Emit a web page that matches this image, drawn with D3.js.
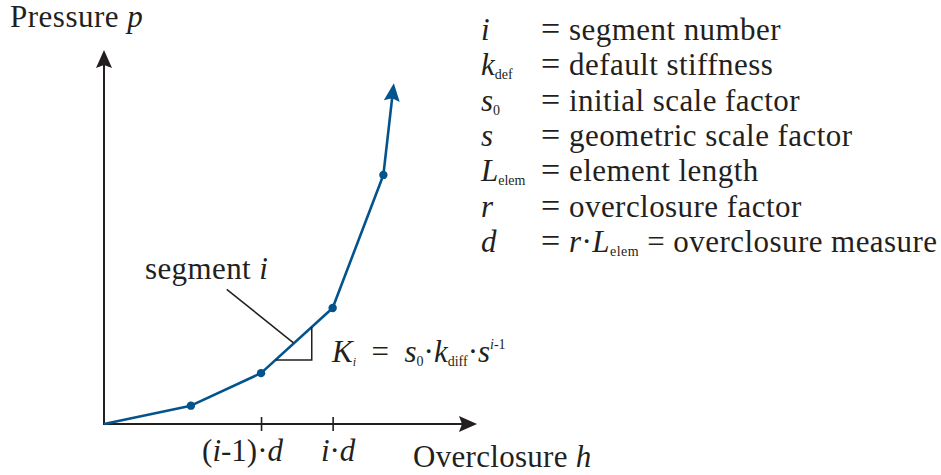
<!DOCTYPE html>
<html>
<head>
<meta charset="utf-8">
<script src="https://cdn.jsdelivr.net/npm/d3@7"></script>
<style>
  html, body { margin: 0; padding: 0; background: #fff; }
  svg { display: block; }
  text { font-family: "Liberation Serif", "Times New Roman", serif; fill: #231f20; white-space: pre; }
</style>
</head>
<body>
<svg id="chart" width="941" height="475"></svg>
<script>
// ---------------- DATA ----------------
// piecewise-linear pressure-overclosure curve (arbitrary units)
const overclosure = [0, 2.33, 4.21, 6.13, 7.49];
const pressure    = [0, 0.49, 1.36, 3.10, 6.66];
// continuation of the curve (arrow tip)
const curveTip = [7.77, 9.11];
// axis extents
const axisMaxH = 10, axisMaxP = 10;
// x-axis ticks
const tickValues = [4.21, 6.13];
const tickLabels = [
  [{t:"("},{t:"i",it:1},{t:"-1)·"},{t:"d",it:1}],
  [{t:"i",it:1},{t:"·"},{t:"d",it:1}]
];
// slope triangle corner and leader line (data units)
const slopeCorner = [5.57, 1.71];
const leaderLine = [[3.29, 3.60], [5.08, 2.17]];
// legend
const legendSymbols = [
  [{t:"i",it:1}],
  [{t:"k",it:1},{t:"def",sub:1}],
  [{t:"s",it:1},{t:"0",sub:1}],
  [{t:"s",it:1}],
  [{t:"L",it:1},{t:"elem",sub:1}],
  [{t:"r",it:1}],
  [{t:"d",it:1}]
];
const legendTexts = [
  [{t:"segment number"}],
  [{t:"default stiffness"}],
  [{t:"initial scale factor"}],
  [{t:"geometric scale factor"}],
  [{t:"element length"}],
  [{t:"overclosure factor"}],
  [{t:"r",it:1},{t:"·"},{t:"L",it:1},{t:"elem",sub:1},{t:" = overclosure measure"}]
];
const yTitle = [{t:"Pressure "},{t:"p",it:1}];
const xTitle = [{t:"Overclosure "},{t:"h",it:1}];
const segLabel = [{t:"segment "},{t:"i",it:1}];
const kFormula = [{t:"K",it:1},{t:"i",sub:1,it:1,small:12},{t:"  =  "},{t:"s",it:1},{t:"0",sub:1},{t:"·"},
                  {t:"k",it:1},{t:"diff",sub:1},{t:"·"},{t:"s",it:1},{t:"i",sup:1,it:1},{t:"-1",sup:1}];

// ---------------- LAYOUT ----------------
const svg = d3.select("#chart");
const x = d3.scaleLinear().domain([0, axisMaxH]).range([104, 477]);
const y = d3.scaleLinear().domain([0, axisMaxP]).range([424, 50]);
const INK = "#231f20", BLUE = "#03548c";
const FS = 31, SMALL = 14;

function richText(g, px, py, parts, opts = {}) {
  const t = g.append("text").attr("x", px).attr("y", py).attr("font-size", opts.size || FS);
  if (opts.anchor) t.attr("text-anchor", opts.anchor);
  if (opts.ls) t.attr("letter-spacing", opts.ls);
  let shift = 0;
  parts.forEach(p => {
    const target = p.sub ? 4 : p.sup ? -13 : 0;
    const ts = t.append("tspan").text(p.t).attr("dy", target - shift);
    shift = target;
    if (p.it) ts.attr("font-style", "italic");
    if (p.sub || p.sup) ts.attr("font-size", p.small || SMALL);
  });
  return t;
}

function arrowHead(g, x1, y1, x2, y2, color) {
  const a = Math.atan2(y2 - y1, x2 - x1);
  const L = 18, W = 8, I = 15;
  const pt = (dx, dy) => [x2 + dx * Math.cos(a) - dy * Math.sin(a), y2 + dx * Math.sin(a) + dy * Math.cos(a)];
  const p = [pt(0, 0), pt(-L, -W), pt(-I, 0), pt(-L, W)];
  g.append("path").attr("d", "M" + p.map(d => d.join(",")).join("L") + "Z").attr("fill", color);
  return pt(-I + 1, 0);
}

const g = svg.append("g");

// axes lines with arrows
const yBase = arrowHead(g, x(0), y(0), x(0), y(axisMaxP), INK);
g.append("line").attr("x1", x(0)).attr("y1", y(0)).attr("x2", yBase[0]).attr("y2", yBase[1])
  .attr("stroke", INK).attr("stroke-width", 2);
const xBase = arrowHead(g, x(0), y(0), x(axisMaxH), y(0), INK);
g.append("line").attr("x1", x(0) - 1).attr("y1", y(0)).attr("x2", xBase[0]).attr("y2", xBase[1])
  .attr("stroke", INK).attr("stroke-width", 2);

// x axis ticks via d3.axisBottom
const ax = g.append("g").attr("transform", `translate(0,${y(0)})`)
  .call(d3.axisBottom(x).tickValues(tickValues).tickSize(7).tickFormat(""));
ax.select(".domain").remove();
ax.selectAll(".tick line").attr("y1", -7).attr("y2", 7).attr("stroke", INK).attr("stroke-width", 1.6);
const tickDx = [-19, 5];
ax.selectAll(".tick").each(function(d, i) {
  d3.select(this).select("text").remove();
  richText(d3.select(this), tickDx[i], 37, tickLabels[i], {anchor: "middle"});
});

// curve
const pts = overclosure.map((h, i) => [x(h), y(pressure[i])]);
const tip = [x(curveTip[0]), y(curveTip[1])];
const last = pts[pts.length - 1];
const cBase = arrowHead(g, last[0], last[1], tip[0], tip[1], BLUE);
g.append("path").attr("d", d3.line()(pts.concat([cBase])))
  .attr("fill", "none").attr("stroke", BLUE).attr("stroke-width", 2.6).attr("stroke-linejoin", "round");
g.selectAll("circle.pt").data(pts.slice(1)).join("circle").attr("class", "pt")
  .attr("cx", d => d[0]).attr("cy", d => d[1]).attr("r", 4.2).attr("fill", BLUE);

// slope triangle: interpolate curve between points 2 and 3
const [h2, h3] = [overclosure[2], overclosure[3]], [p2, p3] = [pressure[2], pressure[3]];
const pAt = h => p2 + (h - h2) / (h3 - h2) * (p3 - p2);
const hAt = p => h2 + (p - p2) / (p3 - p2) * (h3 - h2);
g.append("path")
  .attr("d", `M${x(hAt(slopeCorner[1]))},${y(slopeCorner[1])}H${x(slopeCorner[0])}V${y(pAt(slopeCorner[0]))}`)
  .attr("fill", "none").attr("stroke", INK).attr("stroke-width", 1.5);
g.append("line")
  .attr("x1", x(leaderLine[0][0])).attr("y1", y(leaderLine[0][1]))
  .attr("x2", x(leaderLine[1][0])).attr("y2", y(leaderLine[1][1]))
  .attr("stroke", INK).attr("stroke-width", 1.5);

// texts
richText(g, 10, 27, yTitle, {ls: 0.5});
richText(g, 413, 467, xTitle, {ls: 0.3});
richText(g, 145, 279, segLabel, {ls: 0.4});
richText(g, 332, 362, kFormula);

// legend
legendSymbols.forEach((s, i) => {
  const by = 40 + i * 35.3;
  richText(g, 481, by, s);
  richText(g, 541, by, [{t:"="}], {size: 34});
  richText(g, 569, by, legendTexts[i], {ls: 0.45});
});
</script>
</body>
</html>
